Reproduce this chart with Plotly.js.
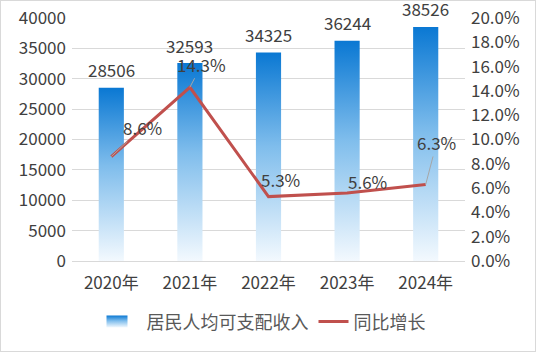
<!DOCTYPE html>
<html><head><meta charset="utf-8">
<script src="https://cdn.plot.ly/plotly-3.0.1.min.js"></script>
<style>
html,body{margin:0;padding:0;background:#fff;}
#wrap{width:534px;height:350px;border:1px solid #d9d9d9;}
#chart{width:534px;height:350px;}
</style></head>
<body><div id="wrap"><div id="chart"></div></div>
<script>
const years = ["2020年","2021年","2022年","2023年","2024年"];
const income = [28506, 32593, 34325, 36244, 38526];
const growth = [0.086, 0.143, 0.053, 0.056, 0.063];
const growthLabels = ["8.6%","14.3%","5.3%","5.6%","6.3%"];
const incomeName = "居民人均可支配收入";
const growthName = "同比增长";

const FONT = "'Noto Sans CJK SC', 'Noto Sans', sans-serif";
const TXT = "#404040";

// label offsets (styling only)
const lineLabelStyle = [
  {showarrow:true, ax:31, ay:-29},
  {showarrow:true, ax:12, ay:-23},
  {showarrow:false, xshift:12, yshift:17},
  {showarrow:false, xshift:20, yshift:11},
  {showarrow:true, ax:11, ay:-42}
];

const annotations = [];
years.forEach((y,i)=>{
  annotations.push({x:y, y:income[i], xref:'x', yref:'y', text:String(income[i]),
    showarrow:false, yshift:18, font:{family:FONT,size:17,color:TXT}});
});
years.forEach((y,i)=>{
  const s = lineLabelStyle[i];
  const a = {x:y, y:growth[i], xref:'x', yref:'y2', text:growthLabels[i],
    font:{family:FONT,size:17,color:TXT}, showarrow:s.showarrow};
  if(s.showarrow){ a.ax=s.ax; a.ay=s.ay; a.arrowhead=0; a.arrowwidth=1; a.arrowcolor='#a6a6a6'; a.standoff=0; }
  else { a.xshift=s.xshift; a.yshift=s.yshift; }
  annotations.push(a);
});

const data = [
  {type:'bar', x:years, y:income, name:incomeName, marker:{color:'#5aa5e6'}, width:0.32, hoverinfo:'none'},
  {type:'scatter', mode:'lines', x:years, y:growth, yaxis:'y2', name:growthName,
   line:{color:'#c0504d', width:3}, hoverinfo:'none'}
];

const layout = {
  width:534, height:350,
  margin:{l:71, r:70, t:17, b:89},
  paper_bgcolor:'#fff', plot_bgcolor:'#fff',
  font:{family:FONT, size:17, color:TXT},
  showlegend:true,
  legend:{orientation:'h', x:0.5, xanchor:'center', y:-0.245, yanchor:'middle',
    font:{family:FONT,size:18,color:'#595959'}, itemwidth:30},
  xaxis:{type:'category', showline:true, linecolor:'#d9d9d9', linewidth:1, ticks:'',
    tickfont:{family:FONT,size:17,color:TXT}, ticklabelstandoff:7, fixedrange:true},
  yaxis:{range:[0,40000], dtick:5000, gridcolor:'#d9d9d9', zeroline:false, showline:false,
    tickfont:{family:FONT,size:17,color:TXT}, ticklabelstandoff:5, tickformat:'d', fixedrange:true},
  yaxis2:{range:[0,0.2], dtick:0.02, overlaying:'y', side:'right', showgrid:false, zeroline:false,
    tickformat:'.1%', tickfont:{family:FONT,size:17,color:TXT}, ticklabelstandoff:5, fixedrange:true},
  annotations:annotations,
  bargap:0.68
};

Plotly.newPlot('chart', data, layout, {staticPlot:true, displayModeBar:false}).then(gd=>{
  const svg = gd.querySelector('svg.main-svg');
  const ns = 'http://www.w3.org/2000/svg';
  let defs = svg.querySelector('defs');
  if(!defs){ defs = document.createElementNS(ns,'defs'); svg.insertBefore(defs, svg.firstChild); }
  const lg = document.createElementNS(ns,'linearGradient');
  lg.setAttribute('id','barGrad'); lg.setAttribute('x1','0'); lg.setAttribute('y1','0');
  lg.setAttribute('x2','0'); lg.setAttribute('y2','1');
  [[0,'#0a78d3'],[0.45,'#7fbdec'],[1,'#f3f9fe']].forEach(([o,c])=>{
    const st = document.createElementNS(ns,'stop');
    st.setAttribute('offset',o); st.setAttribute('stop-color',c); lg.appendChild(st);
  });
  defs.appendChild(lg);
  gd.querySelectorAll('.barlayer .point path').forEach(p=>{ p.style.fill='url(#barGrad)'; });
  const tr = gd.querySelectorAll('.legend .traces');
  if(tr.length){
    tr[0].querySelectorAll('.legendpoints path').forEach(p=>{
      p.setAttribute('d','M13,6H-13V-6H13Z');
      p.style.fill='url(#barGrad)';
      p.style.stroke='none';
      p.setAttribute('transform','translate(8,0)');
    });
  }
});
</script></body></html>
